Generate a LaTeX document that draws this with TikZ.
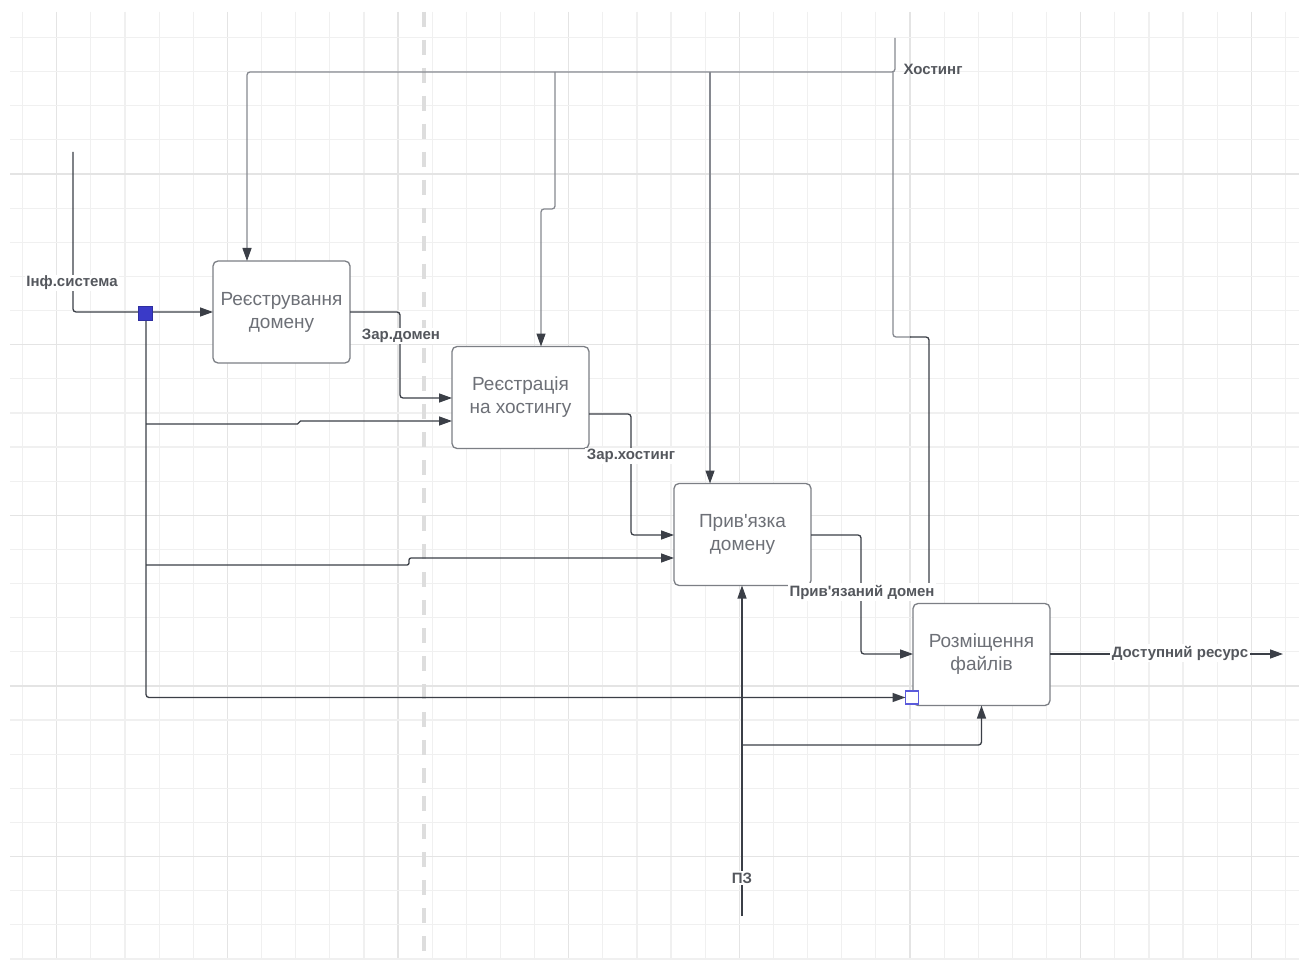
\documentclass[tikz,border=0pt]{standalone}
\usepackage{fontspec}
\setmainfont{Liberation Sans}
\usetikzlibrary{arrows.meta}
\definecolor{wirec}{HTML}{3B3F47}
\definecolor{hostc}{HTML}{868990}
\definecolor{boxline}{HTML}{7C7F85}
\definecolor{boxtext}{HTML}{6D7077}
\definecolor{lblc}{HTML}{54575D}
\definecolor{gridminor}{HTML}{F0F0F0}
\definecolor{gridmajor}{HTML}{E4E4E4}
\definecolor{dashc}{HTML}{DDDDDD}
\definecolor{pinc}{HTML}{3A3AC8}
\definecolor{pinopenc}{HTML}{5B5BDB}
\tikzset{
  func/.style={draw=boxline, line width=1.3pt, rounded corners=5pt, fill=white,
    minimum width=137pt, minimum height=102pt, inner sep=0pt, outer sep=0pt,
    align=center, text=boxtext, font=\fontsize{19}{23}\selectfont},
  wire/.style={draw=wirec, line width=1.3pt, rounded corners=3pt},
  hwire/.style={draw=hostc, line width=1.3pt, rounded corners=3pt},
  tip/.style={-{Triangle[length=13pt,width=9pt,color=wirec]}},
  lab/.style={text=lblc, font=\fontsize{15}{17}\selectfont\bfseries, inner sep=1.5pt, fill=white},
  pinfull/.style={draw=pinc!80!black, fill=pinc, minimum size=14pt, inner sep=0pt, outer sep=0pt, line width=0.8pt},
  pinopen/.style={draw=pinopenc, fill=white, minimum size=13pt, inner sep=0pt, outer sep=0pt, line width=1.4pt},
}
\begin{document}
\begin{tikzpicture}[x=1pt,y=-1pt]
\useasboundingbox (0,0) rectangle (1299,960);
\fill[white] (0,0) rectangle (1299,960);
% background grid, every fifth line a little darker
\foreach \k in {0,...,37}{
  \pgfmathsetmacro\gx{22.6+34.13*\k}
  \pgfmathtruncatemacro\m{mod(\k,5)}
  \ifnum\m=1
    \draw[gridmajor, line width=1.3pt] (\gx,12) -- (\gx,960);
  \else
    \draw[gridminor, line width=1.2pt] (\gx,12) -- (\gx,960);
  \fi
}
\foreach \k in {1,...,28}{
  \pgfmathsetmacro\gy{3.35+34.13*\k}
  \pgfmathtruncatemacro\m{mod(\k,5)}
  \ifnum\m=0
    \draw[gridmajor, line width=1.3pt] (10,\gy) -- (1299,\gy);
  \else
    \draw[gridminor, line width=1.2pt] (10,\gy) -- (1299,\gy);
  \fi
}
\draw[dashc, line width=4pt, dash pattern=on 15pt off 13pt] (424,12) -- (424,960);

% function blocks
\node[func] (b1) at (281.5,312) {Реєстрування\\домену};
\node[func] (b2) at (520.5,397.5) {Реєстрація\\на хостингу};
\node[func] (b3) at (742.5,534.5) {Прив\textquotesingle язка\\домену};
\node[func] (b4) at (981.5,654.5) {Розміщення\\файлів};

% free ends and junctions
\coordinate (infin) at (73,152);
\coordinate (hostin) at (895,38);
\coordinate (pzin) at (742,916);
\coordinate (outend) at (1283,654);

% control: hosting
\draw[hwire,tip] (hostin) -- (895,72) -- (247,72) -- (b1.north -| 247,0);
\draw[hwire,tip] (555,72) -- (555,209) -- (541,209) -- (b2.north -| 541,0);
\draw[hwire,tip] (710,72) -- (b3.north -| 710,0);
\draw[hwire] (893,72) -- (893,337) -- (911,337);
\draw[wire] (910,337) -- (929,337) -- (929,592);

% input: information system
\draw[wire,tip] (infin) |- (b1.west);
\node[pinopen] (joint) at (912,697.5) {};
\draw[wire,tip] (146,312) |- (joint.west);
\draw[wire,tip,rounded corners=1.5pt] (146,424) -- (299,424) -- (299,421) -- (b2.west |- 0,421);
\draw[wire,tip,rounded corners=2pt] (146,565) -- (409,565) -- (409,558) -- (b3.west |- 0,558);
\node[pinfull] (split) at (145,313) {};

% outputs passed along the chain
\draw[wire,tip] (b1.east) -- (400,312) -- (400,398) -- (b2.west |- 0,398);
\draw[wire,tip] (b2.east |- 0,414) -- (631,414) -- (631,535) -- (b3.west |- 0,535);
\draw[wire,tip] (b3.east |- 0,535) -- (861,535) -- (861,654) -- (b4.west |- 0,654);
\draw[wire,tip] (b4.east |- 0,654) -- (outend);

% mechanism: software
\draw[wire,tip] (pzin) -- (pzin |- b3.south);
\draw[wire,tip] (pzin |- 0,745) -| (b4.south);

% labels
\node[lab] (linf) at (72,283) {Інф.система};
\node[lab] (ldom) at (401,336) {Зар.домен};
\node[lab] (lhost) at (631,456) {Зар.хостинг};
\node[lab] (lbound) at (862,592) {Прив\textquotesingle язаний домен};
\node[lab] (lres) at (1180,653) {Доступний ресурс};
\node[lab] (lpz) at (742,878) {ПЗ};
\node[lab, fill=none] (lhosting) at (933,69) {Хостинг};
\end{tikzpicture}
\end{document}
